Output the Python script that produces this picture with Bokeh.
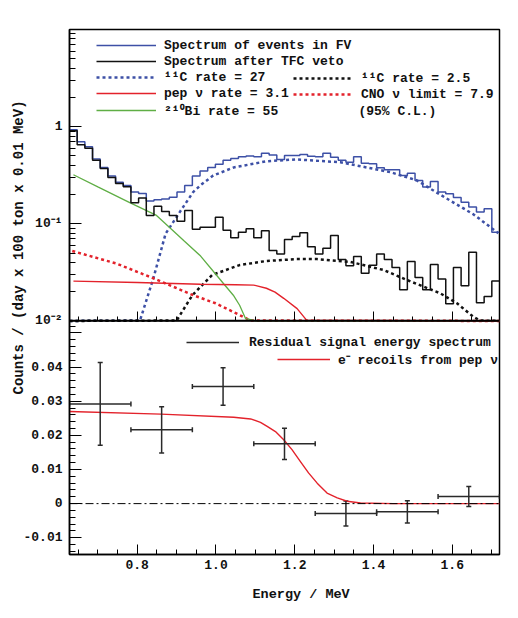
import numpy as np
from bokeh.plotting import figure
from bokeh.models import (Range1d, LogScale, LinearAxis, FixedTicker, SingleIntervalTicker,
                          CustomJSTickFormatter, PrintfTickFormatter, Legend, LegendItem, Label,
                          Span, Whisker, TeeHead, ColumnDataSource, Title)
from bokeh.embed import file_html
from bokeh.resources import INLINE

# ---------------- data ----------------
E_LO, E_HI = 0.628, 1.72          # energy axis range, MeV
N_BINS = 56                       # fine histogram bins
YT_LO, YT_HI = 0.01, 10.0         # top panel (log)
YB_LO, YB_HI = -0.0149, 0.0535    # bottom panel (linear)

fv_counts = [0.93, 0.70, 0.62, 0.465, 0.38, 0.31, 0.268, 0.248, 0.212, 0.205,
             0.172, 0.177, 0.18, 0.188, 0.212, 0.248, 0.31, 0.35, 0.38, 0.41,
             0.45, 0.47, 0.49, 0.50, 0.49, 0.532, 0.512, 0.459, 0.505, 0.505,
             0.517, 0.496, 0.49, 0.532, 0.484, 0.45, 0.43, 0.49, 0.42, 0.414,
             0.377, 0.36, 0.36, 0.314, 0.332, 0.279, 0.239, 0.273, 0.212, 0.204,
             0.186, 0.167, 0.149, 0.132, 0.143, 0.082]
tfc_counts = [0.91, 0.65, 0.60, 0.45, 0.37, 0.30, 0.26, 0.24, 0.165, 0.184,
              0.122, 0.152, 0.134, 0.122, 0.106, 0.137, 0.088, 0.092, 0.092, 0.117,
              0.086, 0.072, 0.082, 0.089, 0.072, 0.085, 0.053, 0.049, 0.069, 0.074,
              0.081, 0.058, 0.049, 0.056, 0.076, 0.043, 0.037, 0.046, 0.031, 0.0375,
              0.049, 0.043, 0.0355, 0.021, 0.041, 0.028, 0.021, 0.038, 0.027, 0.015,
              0.0355, 0.023, 0.051, 0.0154, 0.0178, 0.0257]

c11_27_e = [0.628, 0.807, 0.841, 0.872, 0.908, 0.942, 0.961, 0.993, 1.045, 1.128,
            1.204, 1.316, 1.443, 1.51, 1.569, 1.654, 1.717]
c11_27_v = [0.01, 0.0101, 0.0275, 0.079, 0.132, 0.212, 0.25, 0.314, 0.38, 0.44,
            0.46, 0.43, 0.34, 0.28, 0.20, 0.125, 0.08]

c11_25_e = [0.628, 0.90, 0.94, 0.99, 1.06, 1.128, 1.204, 1.257, 1.342, 1.426,
            1.486, 1.569, 1.612, 1.654, 1.671, 1.72]
c11_25_v = [0.01, 0.0101, 0.0184, 0.0297, 0.0376, 0.0414, 0.0433, 0.0433, 0.0405, 0.0334,
            0.0263, 0.0193, 0.0152, 0.011, 0.0101, 0.01]

pep_e = [0.638, 0.80, 0.961, 1.05, 1.096, 1.128, 1.15, 1.172, 1.206, 1.23, 1.72]
pep_v = [0.0257, 0.0249, 0.0239, 0.0236, 0.0234, 0.0217, 0.0198, 0.0171, 0.0134, 0.0102, 0.01]

cno_e = [0.635, 0.747, 0.841, 0.942, 0.999, 1.06, 1.088, 1.72]
cno_v = [0.0525, 0.039, 0.0275, 0.0184, 0.0152, 0.0115, 0.0101, 0.01]

bi_e = [0.638, 0.70, 0.781, 0.849, 0.887, 0.92, 0.961, 1.001, 1.02, 1.044, 1.06, 1.075, 1.10, 1.72]
bi_v = [0.32, 0.24, 0.165, 0.122, 0.088, 0.066, 0.0465, 0.0297, 0.024, 0.0184, 0.0145, 0.0106, 0.01, 0.01]

res_x = [0.706, 0.862, 1.018, 1.174, 1.33, 1.486, 1.642]
res_y = [0.0292, 0.0216, 0.0343, 0.0175, -0.0029, -0.0024, 0.0021]
res_err = [0.0121, 0.00675, 0.0055, 0.00455, 0.00365, 0.00325, 0.00295]
res_halfwidth = 0.078

fit_e = [0.628, 0.86, 1.045, 1.088, 1.113, 1.13, 1.151, 1.172, 1.193, 1.214,
         1.235, 1.257, 1.282, 1.308, 1.333, 1.367, 1.45, 1.72]
fit_v = [0.0270, 0.0262, 0.0253, 0.0248, 0.0238, 0.0226, 0.0211, 0.0187, 0.0158, 0.0124,
         0.0090, 0.0060, 0.0031, 0.0017, 0.0007, 0.0002, 0.0, 0.0]

# tick values / labels
log_major = [0.01, 0.1, 1.0, 10.0]
log_labels = ["10\u207b\u00b2", "10\u207b\u00b9", "1", ""]
lin_major = [-0.01, 0.0, 0.01, 0.02, 0.03, 0.04, 0.05]
lin_labels = ["-0.01", "0", "0.01", "0.02", "0.03", "0.04", ""]

# ---------------- styling ----------------
FONT = "Liberation Mono"
BLUE = "#3d50a6"
RED = "#e3222b"
GREEN = "#5fae45"
BLACK = "#111111"
TXT = "#111111"
TOP_PX, BOT_PX = 292, 234

main_hi = YB_HI + (YB_HI - YB_LO) * TOP_PX / BOT_PX
L_LO, L_HI = np.log10(YT_LO), np.log10(YT_HI)
log_lo = 10 ** (L_LO - (L_HI - L_LO) * BOT_PX / TOP_PX)

def log_to_main(v):
    # position of a top-panel (log) value on the shared linear frame coordinate
    return float(YB_HI + (np.log10(v) - L_LO) / (L_HI - L_LO) * (main_hi - YB_HI))

p = figure(width=510, height=614, output_backend="svg", toolbar_location=None, title=None,
           x_range=Range1d(E_LO, E_HI), y_range=Range1d(YB_LO, main_hi),
           min_border_left=69, min_border_right=11, min_border_top=29, min_border_bottom=59)
p.extra_y_ranges = {"log": Range1d(log_lo, YT_HI)}
p.extra_y_scales = {"log": LogScale()}
p.xgrid.visible = False
p.ygrid.visible = False
p.outline_line_color = "black"
p.outline_line_width = 1.5
p.background_fill_color = "white"
p.border_fill_color = "white"

def style_axis(ax, maj_in, min_in, standoff):
    ax.major_tick_in = maj_in
    ax.major_tick_out = 0
    ax.minor_tick_in = min_in
    ax.minor_tick_out = 0
    ax.axis_line_color = "black"
    ax.axis_line_width = 1.5
    ax.major_tick_line_color = "black"
    ax.minor_tick_line_color = "black"
    ax.major_label_standoff = standoff
    ax.major_label_text_font = FONT
    ax.major_label_text_font_style = "bold"
    ax.major_label_text_font_size = "13px"
    ax.major_label_text_color = TXT

# bottom x axis
xax = p.xaxis[0]
xax.ticker = SingleIntervalTicker(interval=0.2, num_minor_ticks=4)
xax.formatter = PrintfTickFormatter(format="%.1f")
style_axis(xax, 10, 5, 5)

# single left axis carrying both panels' ticks
lin_minor = [k * 0.002 for k in range(-7, 27) if k % 5 != 0]
log_minor = [m * 10.0 ** e for e in (-2, -1, 0) for m in range(2, 10)]
tick_pos = lin_major + [log_to_main(v) for v in log_major]
tick_lab = lin_labels + log_labels
yax = p.yaxis[0]
yax.ticker = FixedTicker(ticks=tick_pos,
                         minor_ticks=lin_minor + [log_to_main(v) for v in log_minor])
yax.formatter = CustomJSTickFormatter(args=dict(pos=tick_pos, lab=tick_lab), code="""
for (let i = 0; i < pos.length; i++) {
  if (Math.abs(tick - pos[i]) < 1e-7) { return lab[i]; }
}
return "";
""")
style_axis(yax, 12, 6, 7)

# x ticks along the top panel's lower edge
tax = LinearAxis(fixed_location=YB_HI, ticker=SingleIntervalTicker(interval=0.2, num_minor_ticks=4),
                 formatter=CustomJSTickFormatter(code="return '';"))
style_axis(tax, 9, 4, 0)
p.add_layout(tax, "below")

p.add_layout(Span(location=YB_HI, dimension="width", line_color="black", line_width=1.5))

# ---------------- top panel ----------------
edges = list(np.linspace(E_LO, E_HI, N_BINS + 1))

def floor_top(v):
    return list(np.maximum(np.array(v, dtype=float), YT_LO))

r_c27 = p.line(c11_27_e, floor_top(c11_27_v), y_range_name="log", line_color=BLUE,
               line_width=2.5, line_dash="3 3")
r_c25 = p.line(c11_25_e, floor_top(c11_25_v), y_range_name="log", line_color=BLACK,
               line_width=2.5, line_dash="3 3")
r_cno = p.line(cno_e, floor_top(cno_v), y_range_name="log", line_color=RED,
               line_width=2.5, line_dash="3 3")
r_bi = p.line(bi_e, floor_top(bi_v), y_range_name="log", line_color=GREEN, line_width=1.3)
r_pep = p.line(pep_e, floor_top(pep_v), y_range_name="log", line_color=RED, line_width=1.4)

r_fv = p.step(edges, list(fv_counts) + [fv_counts[-1]], mode="after", y_range_name="log",
              line_color=BLUE, line_width=1.5)
r_tfc = p.step(edges, list(tfc_counts) + [tfc_counts[-1]], mode="after", y_range_name="log",
               line_color=BLACK, line_width=1.5)

def make_legend(items, loc, glyph_w, standoff):
    lg = Legend(items=items, location=loc, glyph_width=glyph_w, glyph_height=16,
                label_height=16, spacing=0, padding=0, margin=0, label_standoff=standoff,
                label_text_font=FONT, label_text_font_style="bold",
                label_text_font_size="13px", label_text_color=TXT,
                background_fill_alpha=0, border_line_alpha=0)
    p.add_layout(lg)
    return lg

make_legend([LegendItem(label="Spectrum of events in FV", renderers=[r_fv]),
             LegendItem(label="Spectrum after TFC veto", renderers=[r_tfc]),
             LegendItem(label="\u00b9\u00b9C rate = 27", renderers=[r_c27]),
             LegendItem(label="pep \u03bd rate = 3.1", renderers=[r_pep]),
             LegendItem(label="\u00b2\u00b9\u2070Bi rate = 55", renderers=[r_bi])],
            (27, 435), 60, 8)
make_legend([LegendItem(label="\u00b9\u00b9C rate = 2.5", renderers=[r_c25]),
             LegendItem(label="CNO \u03bd limit = 7.9", renderers=[r_cno])],
            (224, 452), 60, 8)
p.add_layout(Label(x=1.3617, y=1.435, y_range_name="log", text="(95% C.L.)",
                   text_font=FONT, text_font_style="bold", text_font_size="13px",
                   text_color=TXT, text_align="left", text_baseline="middle"))

# ---------------- bottom panel ----------------
p.add_layout(Span(location=0, dimension="width", line_color="black", line_width=1,
                  line_dash="8 3 2 3"))
r_fit = p.line(fit_e, fit_v, line_color=RED, line_width=1.4)

src = ColumnDataSource(dict(
    x=res_x, y=res_y,
    xlo=[a - res_halfwidth for a in res_x], xhi=[a + res_halfwidth for a in res_x],
    ylo=[a - e for a, e in zip(res_y, res_err)], yhi=[a + e for a, e in zip(res_y, res_err)]))
ERR = "#2a2a2a"
r_res = p.segment(x0="xlo", y0="y", x1="xhi", y1="y", source=src, line_color=ERR, line_width=1.5)
p.segment(x0="x", y0="ylo", x1="x", y1="yhi", source=src, line_color=ERR, line_width=1.5)
p.add_layout(Whisker(base="x", lower="ylo", upper="yhi", source=src, dimension="height",
                     line_alpha=0,
                     upper_head=TeeHead(size=5, line_color=ERR, line_width=1.5),
                     lower_head=TeeHead(size=5, line_color=ERR, line_width=1.5)))
p.add_layout(Whisker(base="y", lower="xlo", upper="xhi", source=src, dimension="width",
                     line_alpha=0,
                     upper_head=TeeHead(size=5, line_color=ERR, line_width=1.5),
                     lower_head=TeeHead(size=5, line_color=ERR, line_width=1.5)))

make_legend([LegendItem(label="Residual signal energy spectrum", renderers=[r_res])],
            (117, 204), 53, 10)
make_legend([LegendItem(label="e\u207b recoils from pep \u03bd", renderers=[r_fit])],
            (208, 186), 53, 8)

# axis titles
p.add_layout(Title(text="Energy / MeV", align="left", offset=183, standoff=26,
                   text_font=FONT, text_font_style="bold", text_font_size="13.5px",
                   text_color=TXT), "below")
p.add_layout(Title(text="Counts / (day x 100 ton x 0.01 MeV)", align="left", offset=160,
                   standoff=-12, text_font=FONT, text_font_style="bold", text_font_size="14px",
                   text_color=TXT), "left")

open("out.html", "w").write(file_html(p, INLINE))
